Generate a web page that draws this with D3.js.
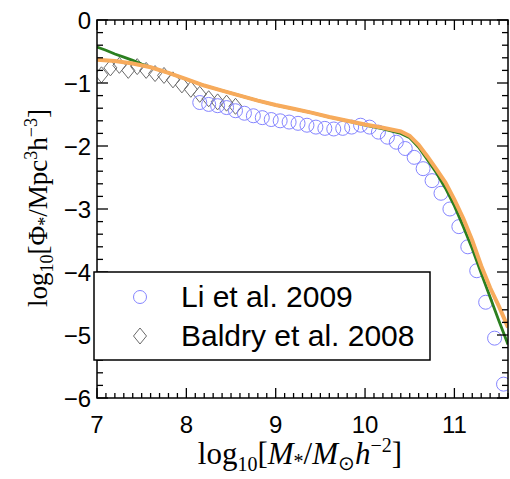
<!DOCTYPE html>
<html><head><meta charset="utf-8">
<script src="https://cdn.jsdelivr.net/npm/d3@7"></script>
<style>body{margin:0;background:#fff}svg{display:block}</style>
</head><body><svg id="c" width="510" height="479"></svg>
<script>
const xTicks = [7, 8, 9, 10, 11];
const yTicks = [0, -1, -2, -3, -4, -5, -6];

const orangeX = [7.0,7.2,7.4,7.6,7.8,8.0,8.2,8.4,8.6,8.8,9.0,9.2,9.4,9.6,9.8,10.0,10.2,10.4,10.5,10.6,10.7,10.8,10.9,11.0,11.1,11.2,11.3,11.4,11.5,11.6];
const orangeY = [-0.63,-0.65,-0.69,-0.75,-0.84,-0.94,-1.04,-1.12,-1.20,-1.28,-1.35,-1.41,-1.47,-1.54,-1.60,-1.66,-1.71,-1.77,-1.84,-1.98,-2.17,-2.37,-2.58,-2.85,-3.15,-3.50,-3.90,-4.25,-4.55,-4.88];

const greenX = [7.0,7.1,7.2,7.3,7.4,7.5,7.6,7.8,8.0,8.2,8.4,8.6,8.8,9.0,9.2,9.4,9.6,9.8,10.0,10.2,10.4,10.5,10.6,10.7,10.8,10.9,11.0,11.1,11.2,11.3,11.4,11.5,11.6];
const greenY = [-0.43,-0.48,-0.54,-0.59,-0.64,-0.70,-0.75,-0.84,-0.94,-1.04,-1.12,-1.20,-1.28,-1.35,-1.41,-1.47,-1.54,-1.60,-1.67,-1.73,-1.80,-1.87,-2.02,-2.22,-2.43,-2.67,-2.95,-3.28,-3.63,-4.02,-4.40,-4.78,-5.15];

const liX = [8.15,8.25,8.35,8.45,8.55,8.65,8.75,8.85,8.95,9.05,9.15,9.25,9.35,9.45,9.55,9.65,9.75,9.85,9.95,10.05,10.15,10.25,10.35,10.45,10.55,10.65,10.75,10.85,10.95,11.05,11.15,11.25,11.35,11.45,11.55];
const liY = [-1.31,-1.34,-1.36,-1.39,-1.44,-1.48,-1.52,-1.55,-1.58,-1.60,-1.62,-1.64,-1.67,-1.70,-1.72,-1.73,-1.72,-1.70,-1.67,-1.70,-1.78,-1.86,-1.94,-2.04,-2.18,-2.36,-2.55,-2.75,-3.00,-3.28,-3.60,-3.98,-4.48,-5.05,-5.78];

const baldryX = [7.05,7.15,7.25,7.35,7.45,7.55,7.65,7.75,7.85,7.95,8.05,8.15,8.25,8.35,8.45,8.55];
const baldryY = [-0.87,-0.76,-0.72,-0.80,-0.74,-0.80,-0.85,-0.88,-0.95,-1.03,-1.10,-1.18,-1.25,-1.30,-1.32,-1.37];

const legendLabels = ["Li et al. 2009", "Baldry et al. 2008"];

const L = 97, R = 508, T = 20, B = 398;
const x = d3.scaleLinear().domain([7, 11.6]).range([L, R]);
const y = d3.scaleLinear().domain([-6, 0]).range([B, T]);

const svg = d3.select("#c");
svg.append("defs").append("clipPath").attr("id","clip")
  .append("rect").attr("x",L).attr("y",T).attr("width",R-L).attr("height",B-T);

const plot = svg.append("g").attr("clip-path","url(#clip)");

const line = d3.line().x(d=>x(d[0])).y(d=>y(d[1]));

// Baldry diamonds
const diamond = (cx, cy) => `M${cx},${cy-8}L${cx+6.5},${cy}L${cx},${cy+8}L${cx-6.5},${cy}Z`;
plot.selectAll(".bd").data(d3.zip(baldryX, baldryY)).enter().append("path")
  .attr("d", d => diamond(x(d[0]), y(d[1])))
  .attr("fill","none").attr("stroke","#6a6a6a").attr("stroke-width",1);

// Li circles
plot.selectAll(".li").data(d3.zip(liX, liY)).enter().append("circle")
  .attr("cx", d=>x(d[0])).attr("cy", d=>y(d[1])).attr("r",7)
  .attr("fill","none").attr("stroke","#8585ff").attr("stroke-width",1);

plot.append("path").attr("d", line(d3.zip(greenX, greenY)))
  .attr("fill","none").attr("stroke","#2b7f1f").attr("stroke-width",2.8);
plot.append("path").attr("d", line(d3.zip(orangeX, orangeY)))
  .attr("fill","none").attr("stroke","#f7ab5c").attr("stroke-width",4);

// ticks
const tk = svg.append("g").attr("stroke","#000").attr("stroke-width",1.3);
const xMinor = d3.range(70, 117).map(v=>v/10);
xMinor.forEach(v=>{
  const major = Math.abs(v - Math.round(v)) < 1e-6;
  const len = major ? 10 : 5;
  tk.append("line").attr("x1",x(v)).attr("x2",x(v)).attr("y1",B).attr("y2",B-len);
  tk.append("line").attr("x1",x(v)).attr("x2",x(v)).attr("y1",T).attr("y2",T+len);
});
const yMinor = d3.range(-30, 1).map(v=>v/5);
yMinor.forEach(v=>{
  const major = Math.abs(v - Math.round(v)) < 1e-6;
  const len = major ? 11 : 6;
  tk.append("line").attr("y1",y(v)).attr("y2",y(v)).attr("x1",L).attr("x2",L+len);
  tk.append("line").attr("y1",y(v)).attr("y2",y(v)).attr("x1",R).attr("x2",R-len);
});

svg.append("rect").attr("x",L).attr("y",T).attr("width",R-L).attr("height",B-T)
  .attr("fill","none").attr("stroke","#000").attr("stroke-width",1.5);

// tick labels
const fmt = v => v < 0 ? "\u2212" + Math.abs(v) : String(v);
svg.append("g").selectAll("text").data(xTicks).enter().append("text")
  .attr("x", d=>x(d)).attr("y", 433).attr("text-anchor","middle")
  .attr("font-family","Liberation Sans, Arial, sans-serif").attr("font-size",24).text(d=>fmt(d));
svg.append("g").selectAll("text").data(yTicks).enter().append("text")
  .attr("x", 91).attr("y", d=>y(d)+8.5).attr("text-anchor","end")
  .attr("font-family","Liberation Sans, Arial, sans-serif").attr("font-size",24).text(d=>fmt(d));

// axis titles
const xt = svg.append("text").attr("x",300).attr("y",464).attr("text-anchor","middle")
  .attr("font-family","Liberation Serif, Times New Roman, serif").attr("font-size",31);
xt.append("tspan").text("log");
xt.append("tspan").attr("font-size",20).attr("dy",7).text("10");
xt.append("tspan").attr("dy",-7).text("[");
xt.append("tspan").attr("font-style","italic").text("M");
xt.append("tspan").attr("font-size",20).attr("dy",4).text("*");
xt.append("tspan").attr("dy",-4).text("/");
xt.append("tspan").attr("font-style","italic").text("M");
xt.append("tspan").attr("font-size",20).attr("dy",6).text("\u2299");
xt.append("tspan").attr("dy",-6).attr("font-style","italic").text("h");
xt.append("tspan").attr("font-size",20).attr("dy",-12).text("\u22122");
xt.append("tspan").attr("dy",12).text("]");

const yt = svg.append("text").attr("transform","translate(47,208) rotate(-90)").attr("text-anchor","middle")
  .attr("font-family","Liberation Serif, Times New Roman, serif").attr("font-size",27);
yt.append("tspan").text("log");
yt.append("tspan").attr("font-size",18).attr("dy",6).text("10");
yt.append("tspan").attr("dy",-6).text("[\u03A6");
yt.append("tspan").attr("font-size",18).attr("dy",4).text("*");
yt.append("tspan").attr("dy",-4).text("/Mpc");
yt.append("tspan").attr("font-size",18).attr("dy",-10).text("3");
yt.append("tspan").attr("dy",10).text("h");
yt.append("tspan").attr("font-size",18).attr("dy",-10).text("\u22123");
yt.append("tspan").attr("dy",10).text("]");

// legend
const lg = svg.append("g");
lg.append("rect").attr("x",94).attr("y",272).attr("width",336).attr("height",88)
  .attr("fill","#fff").attr("stroke","#000").attr("stroke-width",1.5);
lg.append("circle").attr("cx",140).attr("cy",297).attr("r",6.5).attr("fill","none").attr("stroke","#8585ff").attr("stroke-width",1);
lg.append("path").attr("d",diamond(140,336)).attr("fill","none").attr("stroke","#6a6a6a").attr("stroke-width",1);
lg.selectAll("text").data(legendLabels).enter().append("text")
  .attr("x",181).attr("y",(d,i)=>307+i*39)
  .attr("font-family","Liberation Sans, Arial, sans-serif").attr("font-size",30).text(d=>d);
</script></body></html>
